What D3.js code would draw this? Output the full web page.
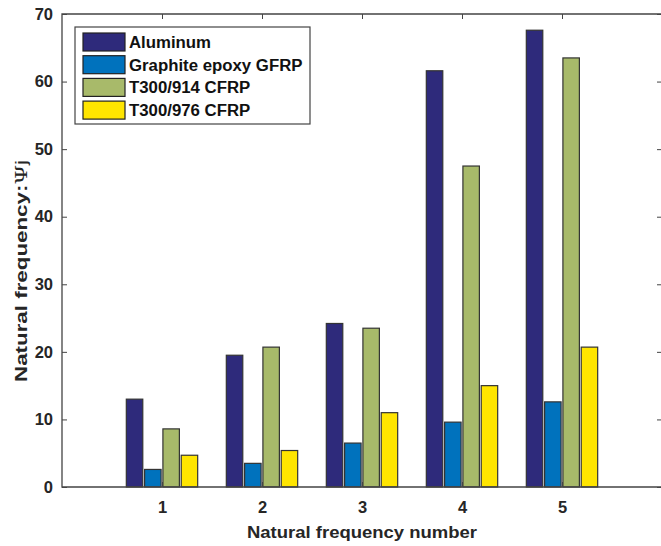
<!DOCTYPE html>
<html>
<head>
<meta charset="utf-8">
<script src="https://cdn.jsdelivr.net/npm/d3@7"></script>
<style>
  html, body { margin: 0; padding: 0; background: #fff; }
  svg { display: block; font-family: "Liberation Sans", Arial, sans-serif; }
  .tick text { font-weight: bold; font-size: 16.5px; fill: #262626; }
  .lbl { font-weight: bold; font-size: 17px; fill: #262626; }
  .leg { font-weight: bold; font-size: 16.8px; fill: #111; }
</style>
</head>
<body>
<svg id="chart" width="661" height="546"></svg>
<script>
(function () {
  "use strict";
  var W = 661, H = 546;
  var M = { left: 62, right: -1, top: 14, bottom: 59 };

  // data
  var modes = [1, 2, 3, 4, 5];
  var series = ["Aluminum", "Graphite epoxy GFRP", "T300/914 CFRP", "T300/976 CFRP"];
  var aluminum = [13.0, 19.5, 24.2, 61.6, 67.6];
  var graphite = [2.6, 3.5, 6.5, 9.6, 12.6];
  var t914 = [8.6, 20.7, 23.5, 47.5, 63.5];
  var t976 = [4.7, 5.4, 11.0, 15.0, 20.7];
  var yTicks = [0, 10, 20, 30, 40, 50, 60, 70];
  var colors = ["#2e2a7b", "#0072bd", "#a8ba6a", "#ffe500"];

  var values = [aluminum, graphite, t914, t976];
  var rows = modes.map(function (m, i) {
    return { mode: m, vals: series.map(function (s, k) { return { key: s, k: k, v: values[k][i] }; }) };
  });

  var svg = d3.select("#chart");
  var x = d3.scaleLinear().domain([0, 6]).range([M.left, W - M.right]);
  var y = d3.scaleLinear().domain([0, 70]).range([H - M.bottom, M.top]);
  var inner = d3.scaleBand().domain(series).range([-36.6, 36.6]).paddingInner(0.1).paddingOuter(0.05);

  var g = svg.append("g");
  g.selectAll("g.grp").data(rows).enter().append("g").attr("class", "grp")
    .attr("transform", function (d) { return "translate(" + x(d.mode) + ",0)"; })
    .selectAll("rect").data(function (d) { return d.vals; }).enter().append("rect")
    .attr("x", function (d) { return inner(d.key); })
    .attr("width", inner.bandwidth())
    .attr("y", function (d) { return y(d.v); })
    .attr("height", function (d) { return y(0) - y(d.v); })
    .attr("fill", function (d) { return colors[d.k]; })
    .attr("stroke", "#333").attr("stroke-width", 1.2);

  // axes, MATLAB style: ticks inward, mirrored on top/right
  var axCol = "#444";
  function styleAx(sel) {
    sel.select(".domain").remove();
    sel.selectAll(".tick line").attr("stroke", axCol).attr("stroke-width", 1);
  }
  svg.append("g").attr("transform", "translate(0," + y(0) + ")")
    .call(d3.axisBottom(x).tickValues(modes).tickSize(-5).tickPadding(14.5).tickFormat(d3.format("d")))
    .call(styleAx);
  svg.append("g").attr("transform", "translate(0," + y(70) + ")")
    .call(d3.axisTop(x).tickValues(modes).tickSize(-5).tickFormat(""))
    .call(styleAx);
  svg.append("g").attr("transform", "translate(" + x(0) + ",0)")
    .call(d3.axisLeft(y).tickValues(yTicks).tickSize(-5).tickPadding(9))
    .call(styleAx);
  svg.append("g").attr("transform", "translate(" + x(6) + ",0)")
    .call(d3.axisRight(y).tickValues(yTicks).tickSize(-5).tickFormat(""))
    .call(styleAx);
  svg.selectAll(".tick text").attr("font-family", null).attr("font-size", null);

  // frame
  svg.append("path").attr("fill", "none").attr("stroke", axCol).attr("stroke-width", 1.3)
    .attr("d", "M" + x(6) + "," + y(70) + "H" + x(0) + "V" + y(0) + "H" + x(6) + "V" + y(70));

  // axis labels (reference font is wider than Liberation, so pin the lengths)
  svg.append("text").attr("class", "lbl").attr("x", 362).attr("y", 538)
    .attr("text-anchor", "middle").attr("textLength", 230).attr("lengthAdjust", "spacingAndGlyphs")
    .text("Natural frequency number");
  var yl = svg.append("text").attr("class", "lbl").attr("text-anchor", "middle")
    .attr("textLength", 222).attr("lengthAdjust", "spacingAndGlyphs")
    .attr("transform", "translate(27,271) rotate(-90)");
  yl.append("tspan").text("Natural frequency:");
  yl.append("tspan").attr("font-family", "'DejaVu Serif', serif").attr("font-weight", "normal").text("\u03a8");
  yl.append("tspan").attr("font-weight", "normal").text("j");

  // legend
  var lg = svg.append("g").attr("transform", "translate(75,27)");
  lg.append("rect").attr("width", 235).attr("height", 97).attr("fill", "#fff")
    .attr("stroke", "#444").attr("stroke-width", 1.2);
  var li = lg.selectAll("g.li").data(series).enter().append("g").attr("class", "li")
    .attr("transform", function (d, i) { return "translate(8," + (6 + i * 22.7) + ")"; });
  li.append("rect").attr("width", 42).attr("height", 18)
    .attr("fill", function (d, i) { return colors[i]; }).attr("stroke", "#222").attr("stroke-width", 1.2);
  li.append("text").attr("class", "leg").attr("x", 46).attr("y", 15).text(function (d) { return d; });
})();
</script>
</body>
</html>
